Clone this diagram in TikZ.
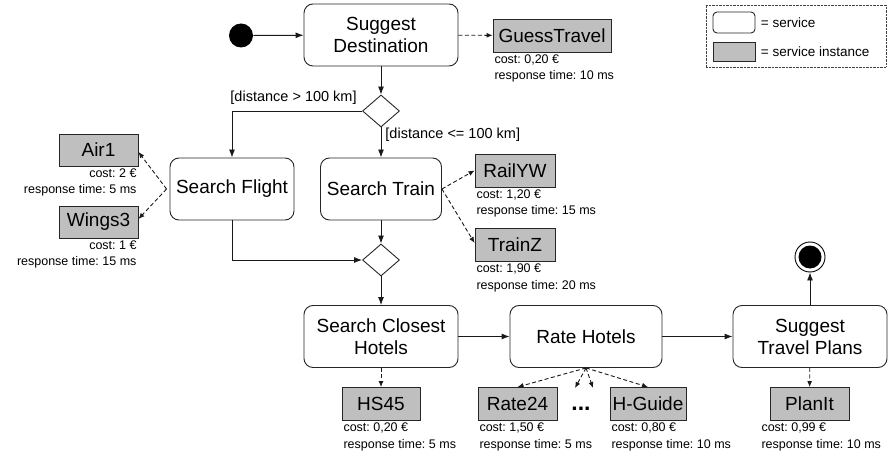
\documentclass[tikz,border=0pt]{standalone}
\usepackage{fontspec}
\setmainfont{Liberation Sans}
\frenchspacing
\usetikzlibrary{shapes.geometric,arrows.meta}
\def \hoeheDienst {62pt}
\def \hoeheInstanz {33pt}
\newcommand{\gross}{\fontsize{19}{22}\selectfont}
\newcommand{\klein}{\fontsize{12.5}{16.5}\selectfont}
\newcommand{\mittel}{\fontsize{14.5}{16}\selectfont}
\tikzset{
  dienst/.style={draw=black!85,rounded corners=9pt,minimum height=\hoeheDienst,align=center,font=\gross,inner sep=0pt},
  instanz/.style={draw=black!85,fill=black!25,minimum height=\hoeheInstanz,inner sep=0pt,font=\gross},
  weiche/.style={draw=black!85,diamond,minimum width=37pt,minimum height=32pt,inner sep=0pt},
  fluss/.style={draw=black!90,-{Latex[length=8pt,width=6pt]}},
  nutzt/.style={draw=black!90,dash pattern=on 4pt off 2.5pt,-{Latex[length=6pt,width=5pt]}},
  werte/.style={font=\klein,inner sep=1.5pt}
}

\begin{document}
\begin{tikzpicture}[x=1pt,y=-1pt,line width=0.9pt]
  \useasboundingbox (0,0) rectangle (894,457);

  \node[circle,fill=black,minimum size=24pt,inner sep=0pt] (start) at (241,35.5) {};
  \node[dienst,minimum width=154pt] (ziel) at (381,35) {Suggest\\Destination};
  \node[instanz,minimum width=118pt] (guess) at (552,35.5) {GuessTravel};
  \node[werte,anchor=north west,align=left] at (guess.south west) {cost: 0,20 €\\response time: 10 ms};

  \node[weiche] (weiche1) at (381,111) {};
  \node[font=\mittel,anchor=south east,inner sep=0pt] at ([xshift=-5pt,yshift=6pt]weiche1.west) {[distance > 100 km]};
  \node[font=\mittel,anchor=north west,inner sep=0pt] at ([xshift=4pt]weiche1.south) {[distance <= 100 km]};

  \node[dienst,minimum width=124pt] (flug) at (232,189) {Search Flight};
  \node[dienst,minimum width=121pt] (zug) at (381,189) {Search Train};

  \node[instanz,minimum width=79pt,minimum height=32pt] (air1) at (98.5,150) {Air1};
  \node[werte,anchor=north east,align=right] at (air1.south east) {cost: 2 €\\response time: 5 ms};
  \node[instanz,minimum width=79pt,minimum height=32pt] (wings3) at (98.5,222) {Wings3};
  \node[werte,anchor=north east,align=right] at (wings3.south east) {cost: 1 €\\response time: 15 ms};

  \node[instanz,minimum width=80pt] (railyw) at (515,170.5) {RailYW};
  \node[werte,anchor=north west,align=left] at (railyw.south west) {cost: 1,20 €\\response time: 15 ms};
  \node[instanz,minimum width=80pt] (trainz) at (515,245) {TrainZ};
  \node[werte,anchor=north west,align=left] at (trainz.south west) {cost: 1,90 €\\response time: 20 ms};

  \node[weiche] (weiche2) at (381,260) {};

  \node[dienst,minimum width=154pt] (hotels) at (381,336.5) {Search Closest\\Hotels};
  \node[dienst,minimum width=152pt] (bewerten) at (586,336.5) {Rate Hotels};
  \node[dienst,minimum width=154pt] (plaene) at (810,336.5) {Suggest\\Travel Plans};

  \node[circle,draw=black,minimum size=30pt,inner sep=0pt] (ende) at (810,257) {};
  \fill (ende.center) circle (11.5pt);

  \node[instanz,minimum width=78pt] (hs45) at (381,404) {HS45};
  \node[werte,anchor=north west,align=left] at (hs45.south west) {cost: 0,20 €\\response time: 5 ms};
  \node[instanz,minimum width=79pt] (rate24) at (517.5,404) {Rate24};
  \node[werte,anchor=north west,align=left] at (rate24.south west) {cost: 1,50 €\\response time: 5 ms};
  \node[font=\fontsize{23}{23}\selectfont\bfseries,anchor=base,inner sep=0pt] (punkte) at (581,410) {...};
  \node[instanz,minimum width=76pt] (hguide) at (648,404) {H-Guide};
  \node[werte,anchor=north west,align=left] at (hguide.south west) {cost: 0,80 €\\response time: 10 ms};
  \node[instanz,minimum width=79pt] (planit) at (809.5,404) {PlanIt};
  \node[werte,anchor=north west,align=left] at ([xshift=-10pt]planit.south west) {cost: 0,99 €\\response time: 10 ms};

  \coordinate (weitere1) at (575,388);
  \coordinate (weitere2) at (593,388);

  \node[draw=black!75,line width=0.7pt,dash pattern=on 0.7pt off 0.7pt,minimum width=180pt,minimum height=62pt,inner sep=0pt] (legende) at (796,36) {};
  \node[dienst,minimum width=42pt,minimum height=21pt,rounded corners=4pt] (leg-dienst) at (734,22.5) {};
  \node[instanz,minimum width=42pt,minimum height=19pt] (leg-instanz) at (734,51.5) {};
  \node[font=\fontsize{13.5}{15}\selectfont,anchor=west,inner sep=0pt] at ([xshift=5pt]leg-dienst.east) {= service};
  \node[font=\fontsize{13.5}{15}\selectfont,anchor=west,inner sep=0pt] at ([xshift=5pt]leg-instanz.east) {= service instance};

  \draw[fluss] (start) -- (ziel);
  \draw[nutzt] (ziel) -- (guess);
  \draw[fluss] (ziel) -- (weiche1);
  \draw[fluss] (weiche1) -| (flug);
  \draw[fluss] (weiche1) -- (zug);
  \draw[nutzt] ([xshift=-3pt]flug.west) -- ([yshift=-2pt]air1.east);
  \draw[nutzt] ([xshift=-3pt]flug.west) -- ([yshift=3pt]wings3.east);
  \draw[nutzt] (zug.east) -- (railyw.west);
  \draw[nutzt] (zug.east) -- ([yshift=2pt]trainz.west);
  \draw[fluss] (flug) |- (weiche2);
  \draw[fluss] (zug) -- (weiche2);
  \draw[fluss] (weiche2) -- (hotels);
  \draw[nutzt] (hotels) -- (hs45);
  \draw[fluss] (hotels) -- (bewerten);
  \draw[fluss] (bewerten) -- (plaene);
  \draw[nutzt] (bewerten.south) -- (rate24.north);
  \draw[nutzt] (bewerten.south) -- (weitere1);
  \draw[nutzt] (bewerten.south) -- (weitere2);
  \draw[nutzt] (bewerten.south) -- (hguide.north);
  \draw[nutzt] (plaene) -- (planit);
  \draw[fluss] (plaene) -- (ende);
\end{tikzpicture}
\end{document}
